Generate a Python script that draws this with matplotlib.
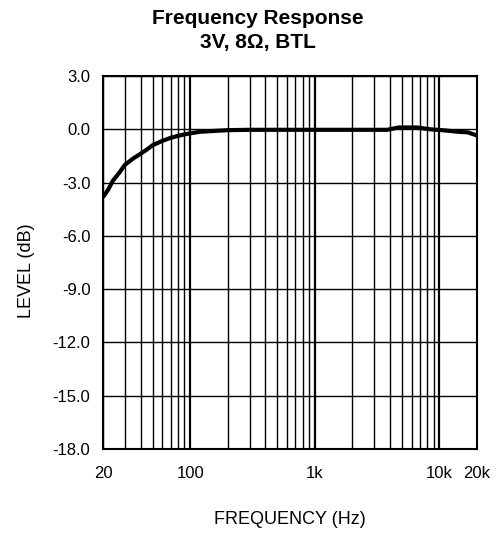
import numpy as np
import matplotlib.pyplot as plt
from matplotlib.ticker import FixedLocator, NullFormatter

plt.rcParams['font.family'] = ['Liberation Sans', 'DejaVu Sans']

# measured response, BTL output, 3 V supply into 8 ohm
freq = [20, 22, 24, 27, 30, 35, 40, 45, 50, 60, 70, 80, 90, 100, 120, 200, 300, 500,
        1000, 2000, 3000, 3800, 4700, 6600, 8400, 10500, 14600, 16800, 20000]
level = [-3.82, -3.4, -2.9, -2.45, -2.0, -1.64, -1.38, -1.14, -0.9, -0.65, -0.48, -0.37, -0.29, -0.23,
         -0.14, -0.05, -0.03, -0.03, -0.03, -0.03, -0.03, -0.03, 0.1, 0.1, 0.0, -0.05, -0.15, -0.17, -0.35]

y_ticks = [3.0, 0.0, -3.0, -6.0, -9.0, -12.0, -15.0, -18.0]
x_ticks = [20, 100, 1000, 10000, 20000]
x_labels = ['20', '100', '1k', '10k', '20k']

fig = plt.figure(figsize=(4.99, 5.34), dpi=100)
ax = fig.add_axes([0.2064, 0.1592, 0.7495, 0.6985])

ax.set_xscale('log')
ax.set_xlim(20, 20000)
ax.set_ylim(-18, 3)

# vertical grid: every 1-2-3...9 step of each decade
minor = [m * 10 ** d for d in range(1, 5) for m in range(1, 10)]
minor = [f for f in minor if 20 <= f <= 20000]
for f in minor:
    lw = 1.6 if f in (100, 1000, 10000) else 1.0
    ax.axvline(f, color='black', lw=lw, zorder=1)
for y in y_ticks:
    ax.axhline(y, color='black', lw=1.0, zorder=1)

ax.plot(freq, level, color='black', lw=3.0, solid_capstyle='butt', zorder=3)

ax.xaxis.set_major_locator(FixedLocator(x_ticks))
ax.set_xticklabels(x_labels)
ax.xaxis.set_minor_formatter(NullFormatter())
ax.set_yticks(y_ticks)
ax.set_yticklabels([f'{v:.1f}' for v in y_ticks])
ax.tick_params(which='both', length=0, labelsize=12)
ax.tick_params(axis='x', pad=12)
ax.tick_params(axis='y', pad=9)

for s in ax.spines.values():
    s.set_linewidth(1.5)

fig.text(0.054, 0.493, 'LEVEL (dB)', rotation=90, ha='center', va='center', fontsize=13)
fig.text(0.581, 0.028, 'FREQUENCY (Hz)', ha='center', va='center', fontsize=13)

fig.text(0.517, 0.966, 'Frequency Response', ha='center', va='center',
         fontsize=15, fontweight='bold')
fig.text(0.517, 0.921, '3V, 8\u03a9, BTL', ha='center', va='center',
         fontsize=15, fontweight='bold')

fig.savefig('out.png', dpi=100)
